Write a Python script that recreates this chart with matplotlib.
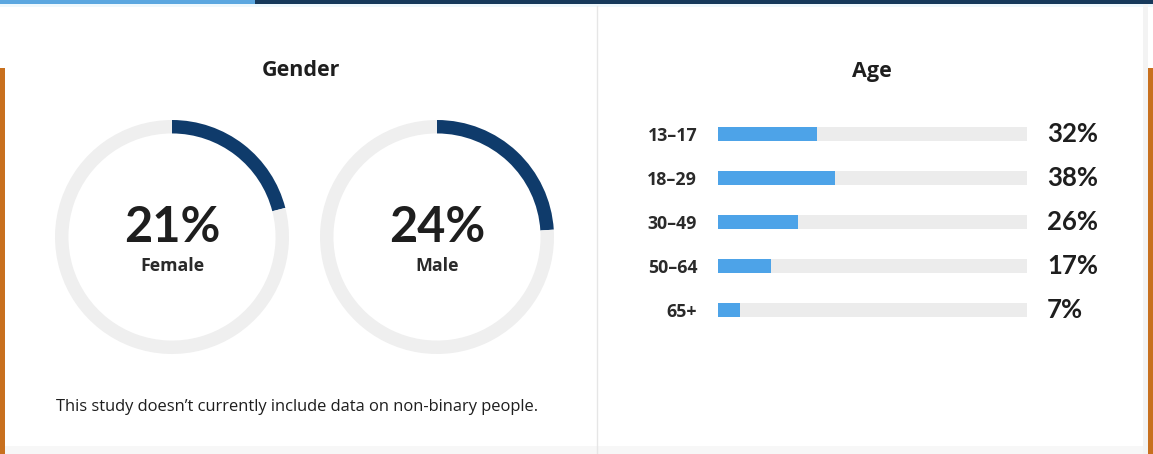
import matplotlib
matplotlib.use("Agg")
from matplotlib import pyplot as plt
from matplotlib.patches import Rectangle

plt.rcParams['font.family'] = ['Open Sans', 'DejaVu Sans']

# Data
gender_labels = ['Female', 'Male']
gender_values = [21, 24]
age_groups = ['13\u201317', '18\u201329', '30\u201349', '50\u201364', '65+']
age_values = [32, 38, 26, 17, 7]

NAVY = '#0f3b6b'
RING = '#efefef'
BLUE = '#4da3e8'
TRACK = '#ececec'
TEXT = '#1e1e1e'
ORANGE = '#c8701e'
BIG_FONT = ['Lato', 'DejaVu Sans']

W, H = 1153, 454
fig = plt.figure(figsize=(W / 100, H / 100), dpi=100)
fig.patch.set_facecolor('white')


def px_axes(x0, y0, w, h):
    """Axes placed with pixel coordinates (origin top-left)."""
    return fig.add_axes([x0 / W, 1 - (y0 + h) / H, w / W, h / H])


# ---- decoration layer in pixel space
bg = px_axes(0, 0, W, H)
bg.set_xlim(0, W)
bg.set_ylim(H, 0)
bg.axis('off')
bg.add_patch(Rectangle((0, 0), 255, 3.5, color='#5ba7e0', lw=0))
bg.add_patch(Rectangle((255, 0), W - 255, 3.5, color='#17395b', lw=0))
bg.add_patch(Rectangle((0, 3.5), W, 3, color='#eef8fd', lw=0))
bg.add_patch(Rectangle((0, 68), 4.5, H - 68, color=ORANGE, lw=0))
bg.add_patch(Rectangle((1143, 3.5), 5, H, color='#f3f3f3', lw=0))
bg.add_patch(Rectangle((1148, 68), 5, H - 68, color=ORANGE, lw=0))
bg.add_patch(Rectangle((4.5, 446), 1138.5, 8, color='#f7f7f7', lw=0))
bg.plot([597, 597], [6, 454], color='#e6e6e6', lw=1)

bg.text(301, 71, 'Gender', ha='center', va='center', fontsize=15.5,
        fontweight='bold', color=TEXT)
bg.text(872, 71, 'Age', ha='center', va='center', fontsize=15.5,
        fontweight='bold', color=TEXT)
bg.text(297, 407, "This study doesn\u2019t currently include data on non-binary people.",
        ha='center', va='center', fontsize=11.9, color=TEXT)

# ---- gender donuts
centers = [172, 437]
radius = 117
for cx, label, val in zip(centers, gender_labels, gender_values):
    ax = px_axes(cx - radius, 237 - radius, 2 * radius, 2 * radius)
    ax.pie([val, 100 - val], startangle=90, counterclock=False,
           colors=[NAVY, RING], wedgeprops=dict(width=0.115, linewidth=0))
    ax.set_xlim(-1, 1)
    ax.set_ylim(-1, 1)
    ax.set_aspect('equal')
    ax.axis('off')
    ax.text(0, 0.08, f'{val}%', ha='center', va='center', fontsize=35,
            fontweight='bold', color=TEXT, family=BIG_FONT)
    ax.text(0, -0.25, label, ha='center', va='center', fontsize=12.8,
            fontweight='bold', color='#2a2a2a')

# ---- age bars
axb = px_axes(718, 112, 309, 220)
ypos = list(range(len(age_groups)))
axb.barh(ypos, [100] * len(age_groups), height=0.32, color=TRACK, lw=0)
axb.barh(ypos, age_values, height=0.32, color=BLUE, lw=0)
axb.set_xlim(0, 100)
axb.set_ylim(len(age_groups) - 0.5, -0.5)
axb.set_xticks([])
axb.set_yticks(ypos)
axb.set_yticklabels(age_groups, fontsize=12.8, fontweight='bold', color='#2a2a2a')
axb.tick_params(axis='y', length=0, pad=15)
for s in axb.spines.values():
    s.set_visible(False)
for y, v in zip(ypos, age_values):
    axb.text(1.065, y, f'{v}%', transform=axb.get_yaxis_transform(),
             ha='left', va='center', fontsize=18.5, fontweight='bold',
             color=TEXT, family=BIG_FONT)

fig.savefig('out.png', dpi=100, facecolor='white')
